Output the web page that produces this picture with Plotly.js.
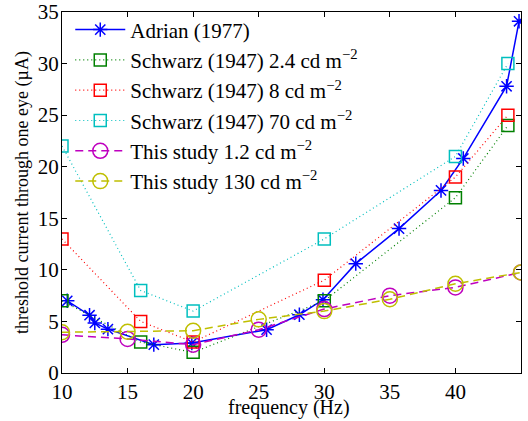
<!DOCTYPE html>
<html><head><meta charset="utf-8">
<script src="https://cdn.plot.ly/plotly-3.0.1.min.js"></script>
<style>html,body{margin:0;padding:0;background:#fff;}</style>
</head><body>
<div id="chart" style="width:528px;height:421px;"></div>
<script>
const adrianX = [10.4, 12.1, 12.5, 13.5, 17.0, 19.9, 25.6, 28.1, 29.9, 32.4, 35.7, 38.9, 40.6, 43.9, 44.85];
const adrianY = [7.0, 5.6, 4.85, 4.25, 2.75, 2.9, 4.2, 5.65, 7.1, 10.6, 14.0, 17.7, 20.8, 27.8, 34.1];
const schwarzX = [10, 16, 20, 30, 40, 44];
const schwarz24 = [7, 3, 2, 7, 17, 24];
const schwarz8 = [13, 5, 3, 9, 19, 25];
const schwarz70 = [22, 8, 6, 13, 21, 30];
const studyX = [10, 15, 20, 25, 30, 35, 40, 45];
const study12 = [3.7, 3.3, 2.75, 4.2, 6.2, 7.5, 8.3, 9.75];
const study130 = [3.95, 4.0, 4.1, 5.2, 6.0, 7.15, 8.65, 9.75];
const names = ['Adrian (1977)', 'Schwarz (1947) 2.4 cd m<sup>\u22122</sup>', 'Schwarz (1947) 8 cd m<sup>\u22122</sup>',
  'Schwarz (1947) 70 cd m<sup>\u22122</sup>', 'This study 1.2 cd m<sup>\u22122</sup>', 'This study 130 cd m<sup>\u22122</sup>'];
const xTitle = 'frequency (Hz)';
const yTitle = 'threshold current through one eye (\u00b5A)';

const dotted = '1px,3px';
const dashed = '8px,5px';
const traces = [
  {x: adrianX, y: adrianY, name: names[0], mode: 'lines+markers',
   line: {color: '#0000ff', width: 1.5},
   marker: {symbol: 'asterisk-open', size: 12, color: '#0000ff', line: {color: '#0000ff', width: 1.5}}},
  {x: schwarzX, y: schwarz24, name: names[1], mode: 'lines+markers',
   line: {color: '#008000', width: 1.2, dash: dotted},
   marker: {symbol: 'square-open', size: 12, color: '#008000', line: {width: 1.5}}},
  {x: schwarzX, y: schwarz8, name: names[2], mode: 'lines+markers',
   line: {color: '#ff0000', width: 1.2, dash: dotted},
   marker: {symbol: 'square-open', size: 12, color: '#ff0000', line: {width: 1.5}}},
  {x: schwarzX, y: schwarz70, name: names[3], mode: 'lines+markers',
   line: {color: '#00bfbf', width: 1.2, dash: dotted},
   marker: {symbol: 'square-open', size: 12, color: '#00bfbf', line: {width: 1.5}}},
  {x: studyX, y: study12, name: names[4], mode: 'lines+markers',
   line: {color: '#bf00bf', width: 1.5, dash: dashed},
   marker: {symbol: 'circle-open', size: 15, color: '#bf00bf', line: {width: 1.5}}},
  {x: studyX, y: study130, name: names[5], mode: 'lines+markers',
   line: {color: '#bfbf00', width: 1.5, dash: dashed},
   marker: {symbol: 'circle-open', size: 15, color: '#bfbf00', line: {width: 1.5}}}
];

const axisCommon = {
  showgrid: false, zeroline: false, showline: true, mirror: 'allticks',
  linecolor: '#000', linewidth: 1, ticks: 'inside', ticklen: 5, tickcolor: '#000',
  tickfont: {family: 'Liberation Serif', size: 21, color: '#000'}
};

const layout = {
  width: 528, height: 421,
  margin: {l: 62, r: 7, t: 12, b: 48},
  paper_bgcolor: '#fff', plot_bgcolor: '#fff',
  font: {family: 'Liberation Serif', color: '#000'},
  xaxis: Object.assign({}, axisCommon, {range: [10, 45], tickvals: [10,15,20,25,30,35,40,45]}),
  yaxis: Object.assign({}, axisCommon, {range: [0, 35], tickvals: [0,5,10,15,20,25,30,35], ticklabelstandoff: -2,
    title: {text: yTitle, font: {family: 'Liberation Serif', size: 18}, standoff: 4}}),
  annotations: [{text: xTitle, xref: 'paper', yref: 'paper', x: 0.495, y: 0, yshift: -34,
    xanchor: 'center', yanchor: 'middle', showarrow: false,
    font: {family: 'Liberation Serif', size: 20, color: '#000'}}],
  showlegend: true,
  legend: {x: 0.018, y: 1.007, xanchor: 'left', yanchor: 'top', bgcolor: 'rgba(0,0,0,0)',
    borderwidth: 0, itemwidth: 50, font: {family: 'Liberation Serif', size: 21, color: '#000'}}
};

Plotly.newPlot('chart', traces, layout, {displayModeBar: false, staticPlot: true});
</script>
</body></html>
